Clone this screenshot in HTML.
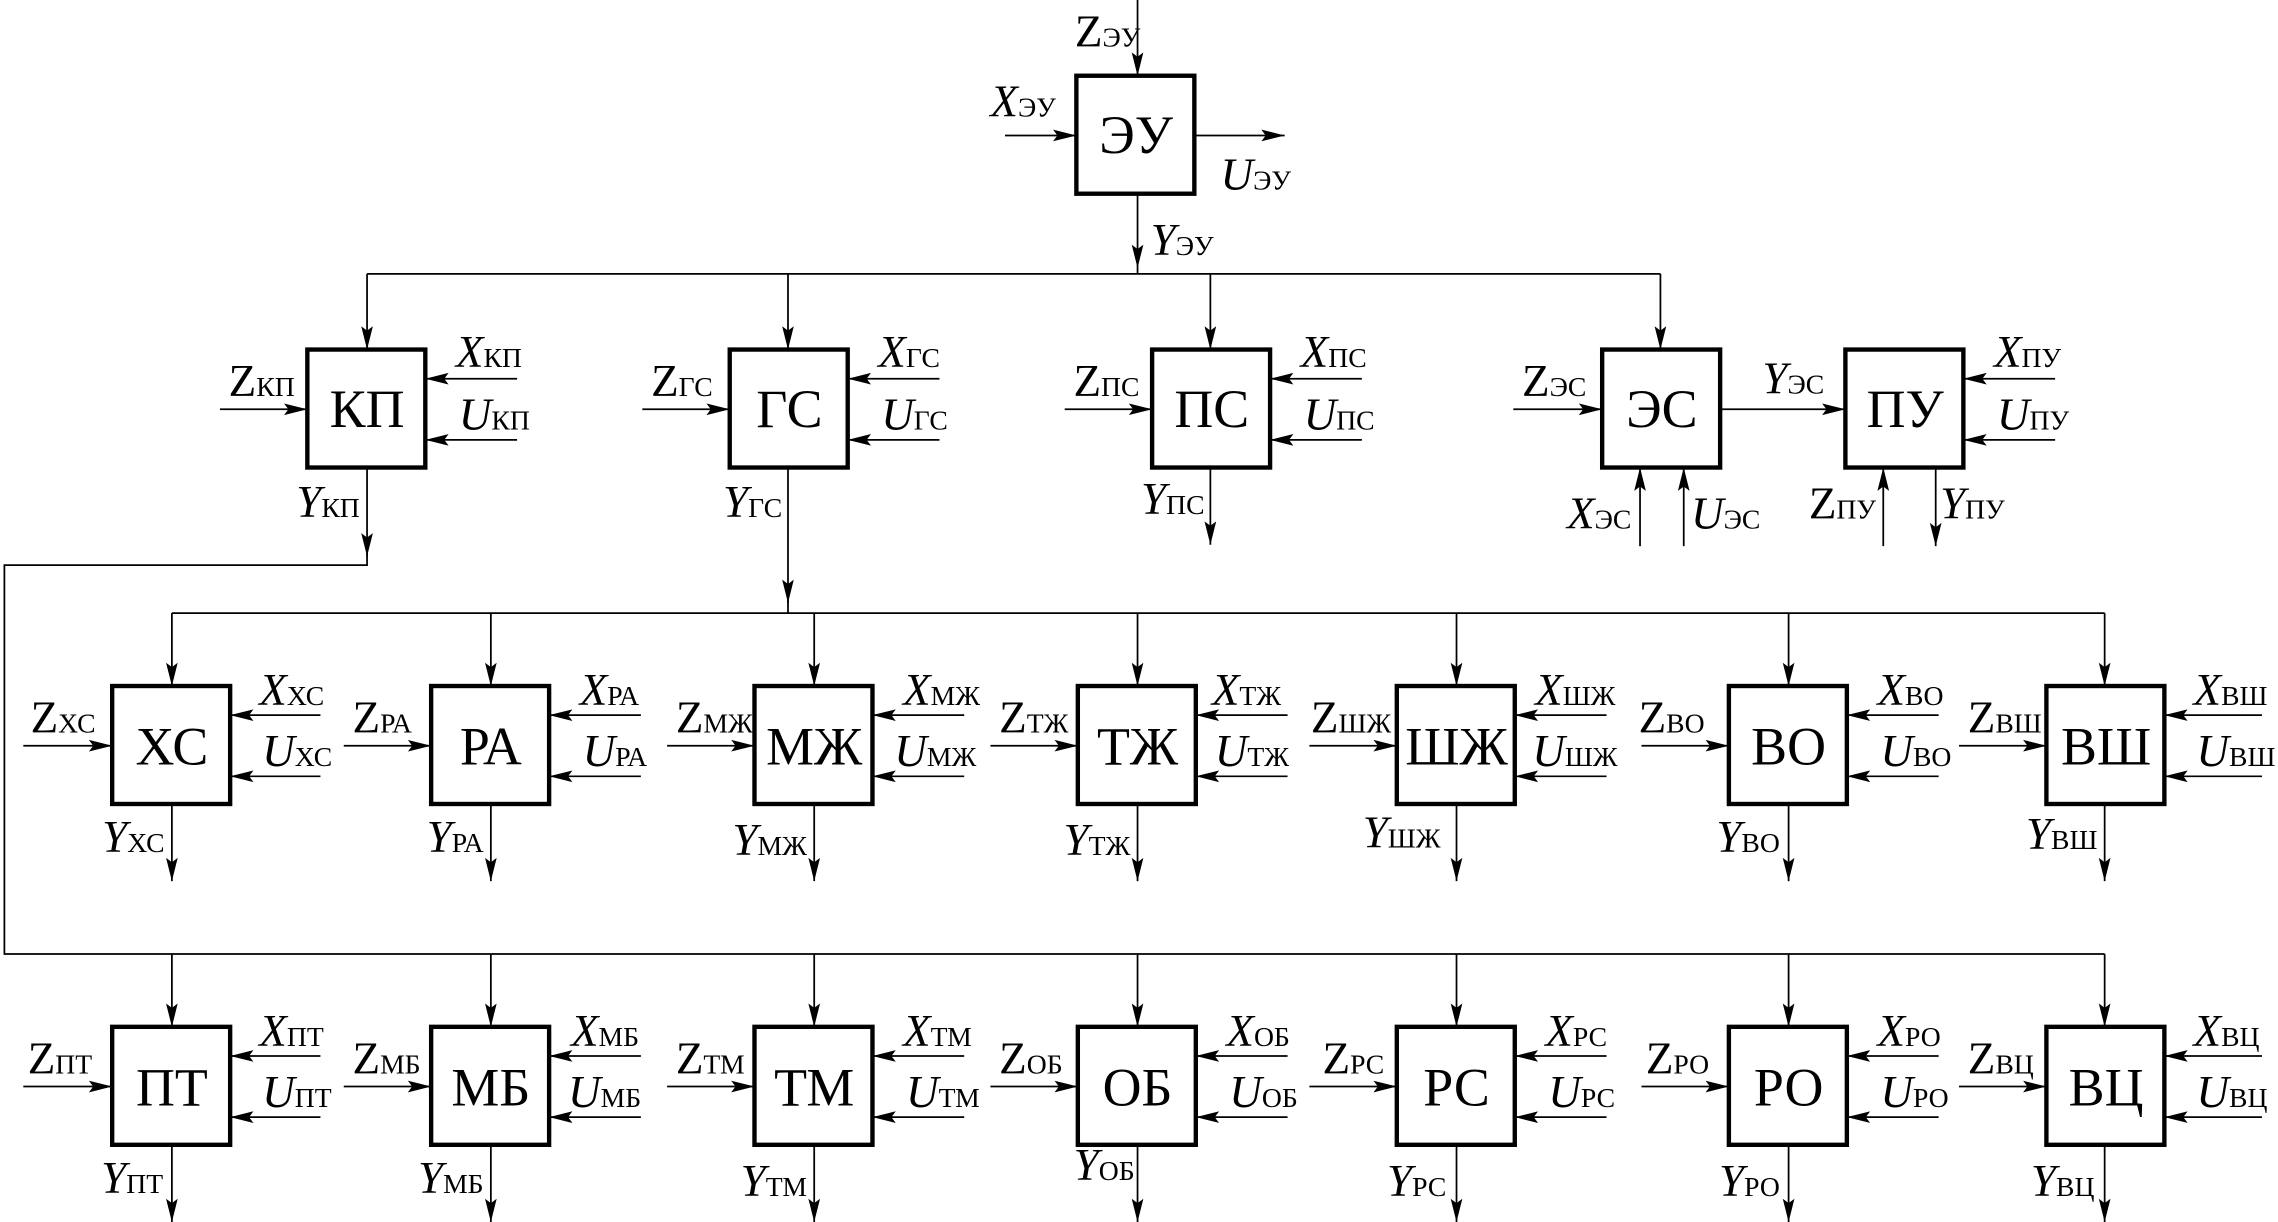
<!DOCTYPE html>
<html><head><meta charset="utf-8"><style>
html,body{margin:0;padding:0;background:#fff;}
svg{display:block;}
svg, svg text, text, tspan{font-family:'Liberation Serif','Times New Roman',Tinos,'DejaVu Serif',serif !important;}
text{fill:#000;}
.m{font-size:31px;}
.i{font-style:italic;}
.s{font-size:19px;font-style:normal;}
.b{font-size:37px;text-anchor:middle;}
line,polyline{stroke:#000;stroke-width:1.2;fill:none;}
.bx{fill:#fff;stroke:#000;stroke-width:3;}
</style></head><body>
<svg width="2278" height="1222" viewBox="0 0 1564 839" xmlns="http://www.w3.org/2000/svg" font-family="Liberation Serif, Times New Roman, serif">
<defs>
<marker id="a" markerUnits="userSpaceOnUse" markerWidth="17" markerHeight="10" refX="16" refY="4.5" orient="auto">
<path d="M0,0.5 L16,4.5 L0,8.5 L3,4.5 z" fill="#000"/>
</marker>
</defs>

<!-- ЭУ -->
<line x1="781" y1="0" x2="781" y2="52" marker-end="url(#a)"/>
<line x1="690" y1="93" x2="739" y2="93" marker-end="url(#a)"/>
<line x1="820" y1="93" x2="882" y2="93" marker-end="url(#a)"/>
<line x1="781" y1="133" x2="781" y2="184" marker-end="url(#a)"/>
<line x1="781" y1="184" x2="781" y2="188"/>
<rect class="bx" x="739" y="52" width="81" height="81"/>
<text class="b" x="780" y="105">ЭУ</text>
<text class="m" x="738" y="32">Z<tspan class="s">ЭУ</tspan></text>
<text class="m" x="680" y="80"><tspan class="i">X</tspan><tspan class="s">ЭУ</tspan></text>
<text class="m" x="838" y="130"><tspan class="i">U</tspan><tspan class="s">ЭУ</tspan></text>
<text class="m" x="790" y="175"><tspan class="i">Y</tspan><tspan class="s">ЭУ</tspan></text>

<!-- bus 1 -->
<line x1="252" y1="188" x2="1140" y2="188"/>
<line x1="252" y1="188" x2="252" y2="240" marker-end="url(#a)"/>
<line x1="541" y1="188" x2="541" y2="240" marker-end="url(#a)"/>
<line x1="831" y1="188" x2="831" y2="240" marker-end="url(#a)"/>
<line x1="1140" y1="188" x2="1140" y2="240" marker-end="url(#a)"/>

<!-- Row 1 -->
<rect class="bx" x="211" y="240" width="81" height="81"/>
<text class="b" x="252" y="293">КП</text>
<line x1="151" y1="281" x2="211" y2="281" marker-end="url(#a)"/>
<line x1="355" y1="260" x2="292" y2="260" marker-end="url(#a)"/>
<line x1="355" y1="302" x2="292" y2="302" marker-end="url(#a)"/>
<text class="m" x="157" y="272">Z<tspan class="s">КП</tspan></text>
<text class="m" x="313" y="252"><tspan class="i">X</tspan><tspan class="s">КП</tspan></text>
<text class="m" x="315" y="295"><tspan class="i">U</tspan><tspan class="s">КП</tspan></text>
<line x1="252" y1="321" x2="252" y2="382" marker-end="url(#a)"/>
<text class="m" x="247" y="355" text-anchor="end"><tspan class="i">Y</tspan><tspan class="s">КП</tspan></text>
<polyline points="252,380 252,388 3,388 3,655 1445,655"/>

<rect class="bx" x="501" y="240" width="81" height="81"/>
<text class="b" x="542" y="293">ГС</text>
<line x1="441" y1="281" x2="501" y2="281" marker-end="url(#a)"/>
<line x1="645" y1="260" x2="582" y2="260" marker-end="url(#a)"/>
<line x1="645" y1="302" x2="582" y2="302" marker-end="url(#a)"/>
<text class="m" x="447" y="272">Z<tspan class="s">ГС</tspan></text>
<text class="m" x="603" y="252"><tspan class="i">X</tspan><tspan class="s">ГС</tspan></text>
<text class="m" x="605" y="295"><tspan class="i">U</tspan><tspan class="s">ГС</tspan></text>
<line x1="541" y1="321" x2="541" y2="414" marker-end="url(#a)"/>
<line x1="541" y1="412" x2="541" y2="421"/>
<text class="m" x="537" y="355" text-anchor="end"><tspan class="i">Y</tspan><tspan class="s">ГС</tspan></text>

<rect class="bx" x="791" y="240" width="81" height="81"/>
<text class="b" x="832" y="293">ПС</text>
<line x1="731" y1="281" x2="791" y2="281" marker-end="url(#a)"/>
<line x1="935" y1="260" x2="872" y2="260" marker-end="url(#a)"/>
<line x1="935" y1="302" x2="872" y2="302" marker-end="url(#a)"/>
<text class="m" x="737" y="272">Z<tspan class="s">ПС</tspan></text>
<text class="m" x="893" y="252"><tspan class="i">X</tspan><tspan class="s">ПС</tspan></text>
<text class="m" x="895" y="295"><tspan class="i">U</tspan><tspan class="s">ПС</tspan></text>
<line x1="831" y1="321" x2="831" y2="374" marker-end="url(#a)"/>
<text class="m" x="827" y="353" text-anchor="end"><tspan class="i">Y</tspan><tspan class="s">ПС</tspan></text>

<rect class="bx" x="1100" y="240" width="81" height="81"/>
<text class="b" x="1141" y="293">ЭС</text>
<line x1="1039" y1="281" x2="1100" y2="281" marker-end="url(#a)"/>
<text class="m" x="1045" y="272">Z<tspan class="s">ЭС</tspan></text>
<line x1="1181" y1="281" x2="1267" y2="281" marker-end="url(#a)"/>
<text class="m" x="1210" y="270"><tspan class="i">Y</tspan><tspan class="s">ЭС</tspan></text>
<line x1="1126" y1="375" x2="1126" y2="321" marker-end="url(#a)"/>
<line x1="1156" y1="375" x2="1156" y2="321" marker-end="url(#a)"/>
<text class="m" x="1120" y="363" text-anchor="end"><tspan class="i">X</tspan><tspan class="s">ЭС</tspan></text>
<text class="m" x="1161" y="363"><tspan class="i">U</tspan><tspan class="s">ЭС</tspan></text>

<rect class="bx" x="1267" y="240" width="81" height="81"/>
<text class="b" x="1308" y="293">ПУ</text>
<line x1="1411" y1="260" x2="1348" y2="260" marker-end="url(#a)"/>
<line x1="1411" y1="302" x2="1348" y2="302" marker-end="url(#a)"/>
<text class="m" x="1369" y="252"><tspan class="i">X</tspan><tspan class="s">ПУ</tspan></text>
<text class="m" x="1371" y="295"><tspan class="i">U</tspan><tspan class="s">ПУ</tspan></text>
<line x1="1293" y1="375" x2="1293" y2="321" marker-end="url(#a)"/>
<line x1="1329" y1="321" x2="1329" y2="375" marker-end="url(#a)"/>
<text class="m" x="1288" y="356" text-anchor="end">Z<tspan class="s">ПУ</tspan></text>
<text class="m" x="1332" y="356"><tspan class="i">Y</tspan><tspan class="s">ПУ</tspan></text>

<!-- bus 2 -->
<line x1="118" y1="421" x2="1445" y2="421"/>
<line x1="118" y1="421" x2="118" y2="471" marker-end="url(#a)"/>
<line x1="337" y1="421" x2="337" y2="471" marker-end="url(#a)"/>
<line x1="559" y1="421" x2="559" y2="471" marker-end="url(#a)"/>
<line x1="781" y1="421" x2="781" y2="471" marker-end="url(#a)"/>
<line x1="1000" y1="421" x2="1000" y2="471" marker-end="url(#a)"/>
<line x1="1228" y1="421" x2="1228" y2="471" marker-end="url(#a)"/>
<line x1="1445" y1="421" x2="1445" y2="471" marker-end="url(#a)"/>

<!-- Row 2 -->
<g>
<rect class="bx" x="77" y="471" width="81" height="81"/><text class="b" x="118" y="525">ХС</text>
<line x1="16" y1="512" x2="77" y2="512" marker-end="url(#a)"/>
<line x1="220" y1="491" x2="158" y2="491" marker-end="url(#a)"/>
<line x1="220" y1="533" x2="158" y2="533" marker-end="url(#a)"/>
<line x1="118" y1="552" x2="118" y2="605" marker-end="url(#a)"/>
<text class="m" x="21" y="503">Z<tspan class="s">ХС</tspan></text>
<text class="m" x="178" y="484"><tspan class="i">X</tspan><tspan class="s">ХС</tspan></text>
<text class="m" x="180" y="526"><tspan class="i">U</tspan><tspan class="s">ХС</tspan></text>
<text class="m" x="113" y="585" text-anchor="end"><tspan class="i">Y</tspan><tspan class="s">ХС</tspan></text>

<rect class="bx" x="296" y="471" width="81" height="81"/><text class="b" x="337" y="525">РА</text>
<line x1="236" y1="512" x2="296" y2="512" marker-end="url(#a)"/>
<line x1="440" y1="491" x2="377" y2="491" marker-end="url(#a)"/>
<line x1="440" y1="533" x2="377" y2="533" marker-end="url(#a)"/>
<line x1="337" y1="552" x2="337" y2="605" marker-end="url(#a)"/>
<text class="m" x="242" y="503">Z<tspan class="s">РА</tspan></text>
<text class="m" x="398" y="484"><tspan class="i">X</tspan><tspan class="s">РА</tspan></text>
<text class="m" x="400" y="526"><tspan class="i">U</tspan><tspan class="s">РА</tspan></text>
<text class="m" x="332" y="585" text-anchor="end"><tspan class="i">Y</tspan><tspan class="s">РА</tspan></text>

<rect class="bx" x="518" y="471" width="81" height="81"/><text class="b" x="559" y="525">МЖ</text>
<line x1="458" y1="512" x2="518" y2="512" marker-end="url(#a)"/>
<line x1="662" y1="491" x2="599" y2="491" marker-end="url(#a)"/>
<line x1="662" y1="533" x2="599" y2="533" marker-end="url(#a)"/>
<line x1="559" y1="552" x2="559" y2="605" marker-end="url(#a)"/>
<text class="m" x="464" y="503">Z<tspan class="s">МЖ</tspan></text>
<text class="m" x="620" y="484"><tspan class="i">X</tspan><tspan class="s">МЖ</tspan></text>
<text class="m" x="614" y="526"><tspan class="i">U</tspan><tspan class="s">МЖ</tspan></text>
<text class="m" x="554" y="587" text-anchor="end"><tspan class="i">Y</tspan><tspan class="s">МЖ</tspan></text>

<rect class="bx" x="740" y="471" width="81" height="81"/><text class="b" x="781" y="525">ТЖ</text>
<line x1="680" y1="512" x2="740" y2="512" marker-end="url(#a)"/>
<line x1="884" y1="491" x2="821" y2="491" marker-end="url(#a)"/>
<line x1="884" y1="533" x2="821" y2="533" marker-end="url(#a)"/>
<line x1="781" y1="552" x2="781" y2="605" marker-end="url(#a)"/>
<text class="m" x="686" y="503">Z<tspan class="s">ТЖ</tspan></text>
<text class="m" x="832" y="484"><tspan class="i">X</tspan><tspan class="s">ТЖ</tspan></text>
<text class="m" x="834" y="526"><tspan class="i">U</tspan><tspan class="s">ТЖ</tspan></text>
<text class="m" x="776" y="587" text-anchor="end"><tspan class="i">Y</tspan><tspan class="s">ТЖ</tspan></text>

<rect class="bx" x="959" y="471" width="81" height="81"/><text class="b" x="1000" y="525">ШЖ</text>
<line x1="899" y1="512" x2="959" y2="512" marker-end="url(#a)"/>
<line x1="1103" y1="491" x2="1040" y2="491" marker-end="url(#a)"/>
<line x1="1103" y1="533" x2="1040" y2="533" marker-end="url(#a)"/>
<line x1="1000" y1="552" x2="1000" y2="605" marker-end="url(#a)"/>
<text class="m" x="900" y="503">Z<tspan class="s">ШЖ</tspan></text>
<text class="m" x="1054" y="484"><tspan class="i">X</tspan><tspan class="s">ШЖ</tspan></text>
<text class="m" x="1052" y="526"><tspan class="i">U</tspan><tspan class="s">ШЖ</tspan></text>
<text class="m" x="989" y="582" text-anchor="end"><tspan class="i">Y</tspan><tspan class="s">ШЖ</tspan></text>

<rect class="bx" x="1187" y="471" width="81" height="81"/><text class="b" x="1228" y="525">ВО</text>
<line x1="1127" y1="512" x2="1187" y2="512" marker-end="url(#a)"/>
<line x1="1331" y1="491" x2="1268" y2="491" marker-end="url(#a)"/>
<line x1="1331" y1="533" x2="1268" y2="533" marker-end="url(#a)"/>
<line x1="1228" y1="552" x2="1228" y2="605" marker-end="url(#a)"/>
<text class="m" x="1125" y="503">Z<tspan class="s">ВО</tspan></text>
<text class="m" x="1289" y="484"><tspan class="i">X</tspan><tspan class="s">ВО</tspan></text>
<text class="m" x="1291" y="526"><tspan class="i">U</tspan><tspan class="s">ВО</tspan></text>
<text class="m" x="1222" y="585" text-anchor="end"><tspan class="i">Y</tspan><tspan class="s">ВО</tspan></text>

<rect class="bx" x="1405" y="471" width="81" height="81"/><text class="b" x="1446" y="525">ВШ</text>
<line x1="1345" y1="512" x2="1405" y2="512" marker-end="url(#a)"/>
<line x1="1553" y1="491" x2="1486" y2="491" marker-end="url(#a)"/>
<line x1="1553" y1="533" x2="1486" y2="533" marker-end="url(#a)"/>
<line x1="1445" y1="552" x2="1445" y2="605" marker-end="url(#a)"/>
<text class="m" x="1351" y="503">Z<tspan class="s">ВШ</tspan></text>
<text class="m" x="1506" y="484"><tspan class="i">X</tspan><tspan class="s">ВШ</tspan></text>
<text class="m" x="1508" y="526"><tspan class="i">U</tspan><tspan class="s">ВШ</tspan></text>
<text class="m" x="1440" y="583" text-anchor="end"><tspan class="i">Y</tspan><tspan class="s">ВШ</tspan></text>
</g>

<!-- drops row 3 -->
<line x1="118" y1="655" x2="118" y2="705" marker-end="url(#a)"/>
<line x1="337" y1="655" x2="337" y2="705" marker-end="url(#a)"/>
<line x1="559" y1="655" x2="559" y2="705" marker-end="url(#a)"/>
<line x1="781" y1="655" x2="781" y2="705" marker-end="url(#a)"/>
<line x1="1000" y1="655" x2="1000" y2="705" marker-end="url(#a)"/>
<line x1="1228" y1="655" x2="1228" y2="705" marker-end="url(#a)"/>
<line x1="1445" y1="655" x2="1445" y2="705" marker-end="url(#a)"/>

<!-- Row 3 -->
<g>
<rect class="bx" x="77" y="705" width="81" height="81"/><text class="b" x="118" y="759">ПТ</text>
<line x1="16" y1="746" x2="77" y2="746" marker-end="url(#a)"/>
<line x1="220" y1="725" x2="158" y2="725" marker-end="url(#a)"/>
<line x1="220" y1="767" x2="158" y2="767" marker-end="url(#a)"/>
<line x1="118" y1="786" x2="118" y2="839" marker-end="url(#a)"/>
<text class="m" x="19" y="737">Z<tspan class="s">ПТ</tspan></text>
<text class="m" x="178" y="718"><tspan class="i">X</tspan><tspan class="s">ПТ</tspan></text>
<text class="m" x="180" y="760"><tspan class="i">U</tspan><tspan class="s">ПТ</tspan></text>
<text class="m" x="112" y="819" text-anchor="end"><tspan class="i">Y</tspan><tspan class="s">ПТ</tspan></text>

<rect class="bx" x="296" y="705" width="81" height="81"/><text class="b" x="337" y="759">МБ</text>
<line x1="236" y1="746" x2="296" y2="746" marker-end="url(#a)"/>
<line x1="440" y1="725" x2="377" y2="725" marker-end="url(#a)"/>
<line x1="440" y1="767" x2="377" y2="767" marker-end="url(#a)"/>
<line x1="337" y1="786" x2="337" y2="839" marker-end="url(#a)"/>
<text class="m" x="242" y="737">Z<tspan class="s">МБ</tspan></text>
<text class="m" x="392" y="718"><tspan class="i">X</tspan><tspan class="s">МБ</tspan></text>
<text class="m" x="390" y="760"><tspan class="i">U</tspan><tspan class="s">МБ</tspan></text>
<text class="m" x="332" y="819" text-anchor="end"><tspan class="i">Y</tspan><tspan class="s">МБ</tspan></text>

<rect class="bx" x="518" y="705" width="81" height="81"/><text class="b" x="559" y="759">ТМ</text>
<line x1="458" y1="746" x2="518" y2="746" marker-end="url(#a)"/>
<line x1="662" y1="725" x2="599" y2="725" marker-end="url(#a)"/>
<line x1="662" y1="767" x2="599" y2="767" marker-end="url(#a)"/>
<line x1="559" y1="786" x2="559" y2="839" marker-end="url(#a)"/>
<text class="m" x="464" y="737">Z<tspan class="s">ТМ</tspan></text>
<text class="m" x="620" y="718"><tspan class="i">X</tspan><tspan class="s">ТМ</tspan></text>
<text class="m" x="622" y="760"><tspan class="i">U</tspan><tspan class="s">ТМ</tspan></text>
<text class="m" x="554" y="821" text-anchor="end"><tspan class="i">Y</tspan><tspan class="s">ТМ</tspan></text>

<rect class="bx" x="740" y="705" width="81" height="81"/><text class="b" x="781" y="759">ОБ</text>
<line x1="680" y1="746" x2="740" y2="746" marker-end="url(#a)"/>
<line x1="884" y1="725" x2="821" y2="725" marker-end="url(#a)"/>
<line x1="884" y1="767" x2="821" y2="767" marker-end="url(#a)"/>
<line x1="781" y1="786" x2="781" y2="839" marker-end="url(#a)"/>
<text class="m" x="686" y="737">Z<tspan class="s">ОБ</tspan></text>
<text class="m" x="842" y="718"><tspan class="i">X</tspan><tspan class="s">ОБ</tspan></text>
<text class="m" x="844" y="760"><tspan class="i">U</tspan><tspan class="s">ОБ</tspan></text>
<text class="m" x="779" y="810" text-anchor="end"><tspan class="i">Y</tspan><tspan class="s">ОБ</tspan></text>

<rect class="bx" x="959" y="705" width="81" height="81"/><text class="b" x="1000" y="759">РС</text>
<line x1="899" y1="746" x2="959" y2="746" marker-end="url(#a)"/>
<line x1="1103" y1="725" x2="1040" y2="725" marker-end="url(#a)"/>
<line x1="1103" y1="767" x2="1040" y2="767" marker-end="url(#a)"/>
<line x1="1000" y1="786" x2="1000" y2="839" marker-end="url(#a)"/>
<text class="m" x="908" y="737">Z<tspan class="s">РС</tspan></text>
<text class="m" x="1061" y="718"><tspan class="i">X</tspan><tspan class="s">РС</tspan></text>
<text class="m" x="1063" y="760"><tspan class="i">U</tspan><tspan class="s">РС</tspan></text>
<text class="m" x="993" y="821" text-anchor="end"><tspan class="i">Y</tspan><tspan class="s">РС</tspan></text>

<rect class="bx" x="1187" y="705" width="81" height="81"/><text class="b" x="1228" y="759">РО</text>
<line x1="1127" y1="746" x2="1187" y2="746" marker-end="url(#a)"/>
<line x1="1331" y1="725" x2="1268" y2="725" marker-end="url(#a)"/>
<line x1="1331" y1="767" x2="1268" y2="767" marker-end="url(#a)"/>
<line x1="1228" y1="786" x2="1228" y2="839" marker-end="url(#a)"/>
<text class="m" x="1130" y="737">Z<tspan class="s">РО</tspan></text>
<text class="m" x="1289" y="718"><tspan class="i">X</tspan><tspan class="s">РО</tspan></text>
<text class="m" x="1291" y="760"><tspan class="i">U</tspan><tspan class="s">РО</tspan></text>
<text class="m" x="1222" y="821" text-anchor="end"><tspan class="i">Y</tspan><tspan class="s">РО</tspan></text>

<rect class="bx" x="1405" y="705" width="81" height="81"/><text class="b" x="1446" y="759">ВЦ</text>
<line x1="1345" y1="746" x2="1405" y2="746" marker-end="url(#a)"/>
<line x1="1553" y1="725" x2="1486" y2="725" marker-end="url(#a)"/>
<line x1="1553" y1="767" x2="1486" y2="767" marker-end="url(#a)"/>
<line x1="1445" y1="786" x2="1445" y2="839" marker-end="url(#a)"/>
<text class="m" x="1351" y="737">Z<tspan class="s">ВЦ</tspan></text>
<text class="m" x="1506" y="718"><tspan class="i">X</tspan><tspan class="s">ВЦ</tspan></text>
<text class="m" x="1508" y="760"><tspan class="i">U</tspan><tspan class="s">ВЦ</tspan></text>
<text class="m" x="1438" y="821" text-anchor="end"><tspan class="i">Y</tspan><tspan class="s">ВЦ</tspan></text>
</g>
</svg>
</body></html>
